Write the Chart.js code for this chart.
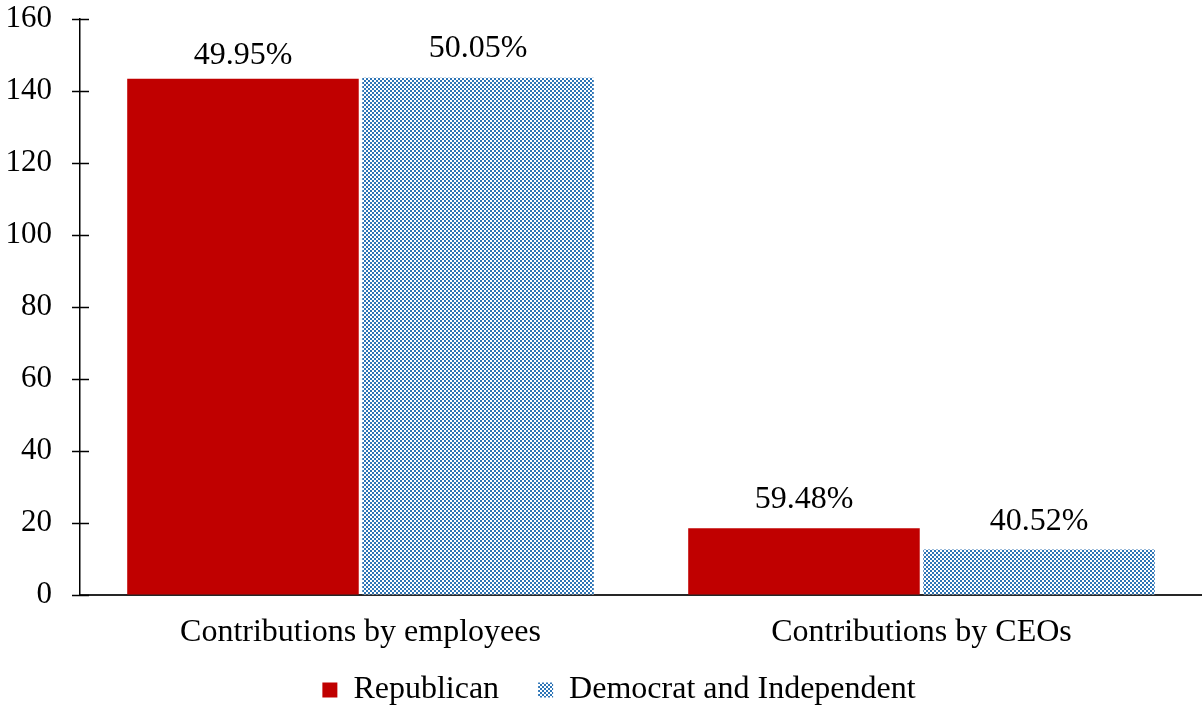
<!DOCTYPE html>
<html>
<head>
<meta charset="utf-8">
<title>Contributions by party</title>
<script src="https://cdn.jsdelivr.net/npm/chart.js@4.4.1/dist/chart.umd.min.js"></script>
<style>
  html, body { margin: 0; padding: 0; background: #fff; }
  #chartBox { width: 1202px; height: 711px; }
</style>
</head>
<body>
<div id="chartBox"><canvas id="partyChart" width="1202" height="711"></canvas></div>
<script>
// Chart data
const categories = ["Contributions by employees", "Contributions by CEOs"];
const seriesNames = ["Republican", "Democrat and Independent"];
const republicanValues = [143.3, 18.5];
const democratValues = [143.6, 12.6];
const republicanShares = ["49.95%", "59.48%"];
const democratShares = ["50.05%", "40.52%"];
const yTicks = [0, 20, 40, 60, 80, 100, 120, 140, 160];

const FONT = "'Liberation Serif', 'Times New Roman', serif";

// Blue / white checker fill used for the second series
function makeChecker(color) {
  const c = document.createElement("canvas");
  c.width = 4;
  c.height = 4;
  const g = c.getContext("2d");
  g.fillStyle = "#ffffff";
  g.fillRect(0, 0, 4, 4);
  g.fillStyle = color;
  g.fillRect(0, 0, 2, 2);
  g.fillRect(2, 2, 2, 2);
  return g.createPattern(c, "repeat");
}

// Percent labels above each bar (the first one sits a bit lower)
const labelLift = [
  [23, 29],
  [29, 28],
];
const shareLabels = {
  id: "shareLabels",
  afterDatasetsDraw(chart) {
    const ctx = chart.ctx;
    const shares = [republicanShares, democratShares];
    ctx.save();
    ctx.font = "32px " + FONT;
    ctx.fillStyle = "#000";
    ctx.textAlign = "center";
    ctx.textBaseline = "middle";
    chart.data.datasets.forEach((ds, di) => {
      chart.getDatasetMeta(di).data.forEach((bar, i) => {
        ctx.fillText(shares[di][i], bar.x, bar.y - labelLift[di][i]);
      });
    });
    ctx.restore();
  },
};

// Y-axis tick marks that cross the axis line
const crossTicks = {
  id: "crossTicks",
  afterDraw(chart) {
    const y = chart.scales.y;
    const ctx = chart.ctx;
    const x0 = chart.chartArea.left;
    ctx.save();
    ctx.strokeStyle = "#000";
    ctx.lineWidth = 1.5;
    yTicks.forEach((v) => {
      const py = Math.round(y.getPixelForValue(v)) + 0.5;
      ctx.beginPath();
      ctx.moveTo(x0 - 8, py);
      ctx.lineTo(x0 + 9, py);
      ctx.stroke();
    });
    ctx.restore();
  },
};

// nudge the legend row a little right of centre
const legendShift = {
  id: "legendShift",
  afterLayout(chart) {
    if (chart.legend) {
      chart.legend.left += 18;
      chart.legend.right += 18;
    }
  },
};

const blueChecker = makeChecker("#2E75B6");

new Chart(document.getElementById("partyChart"), {
  type: "bar",
  data: {
    labels: categories,
    datasets: [
      {
        label: seriesNames[0],
        data: republicanValues,
        backgroundColor: "#C00000",
        borderWidth: 0,
      },
      {
        label: seriesNames[1],
        data: democratValues,
        backgroundColor: blueChecker,
        borderWidth: 0,
      },
    ],
  },
  options: {
    responsive: false,
    animation: false,
    devicePixelRatio: 1,
    categoryPercentage: 0.838,
    barPercentage: 0.985,
    layout: {
      padding: { top: 1, right: 0, bottom: -5, left: 0 },
    },
    plugins: {
      legend: {
        position: "bottom",
        labels: {
          font: { family: FONT, size: 32 },
          color: "#000",
          boxWidth: 15,
          boxHeight: 15,
          padding: 23,
          generateLabels(chart) {
            const items = Chart.defaults.plugins.legend.labels.generateLabels(chart);
            // a wider gap after the first entry
            items[0].text = items[0].text + "  ";
            return items;
          },
        },
      },
      tooltip: { enabled: false },
    },
    scales: {
      x: {
        afterFit(scale) {
          scale.height = 56;
        },
        grid: { display: false, drawTicks: false },
        border: { display: true, color: "#262626", width: 2 },
        ticks: {
          font: { family: FONT, size: 32 },
          color: "#000",
          padding: 18,
        },
      },
      y: {
        min: 0,
        max: 160,
        afterBuildTicks(scale) {
          scale.ticks = yTicks.map((v) => ({ value: v }));
        },
        afterFit(scale) {
          scale.width = 80;
        },
        grid: {
          display: true,
          drawOnChartArea: false,
          drawTicks: true,
          tickLength: 28,
          tickColor: "rgba(0,0,0,0)",
        },
        border: { display: true, color: "#000", width: 1.5 },
        ticks: {
          font: { family: FONT, size: 31 },
          color: "#000",
          padding: 0,
        },
      },
    },
  },
  plugins: [shareLabels, crossTicks, legendShift],
});
</script>
</body>
</html>
